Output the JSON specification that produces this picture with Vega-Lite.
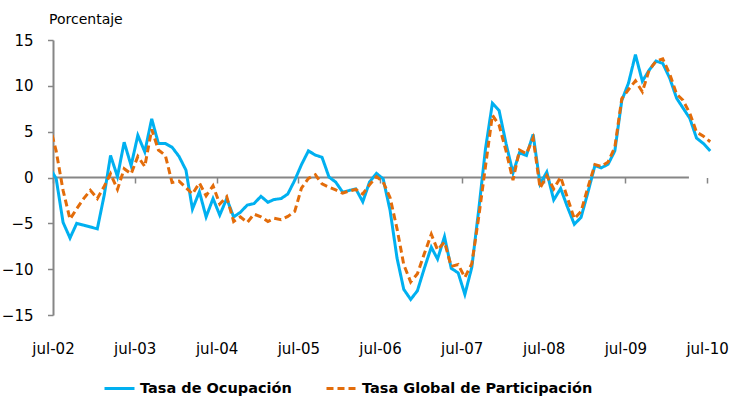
{
  "$schema": "https://vega.github.io/schema/vega-lite/v6.json",
  "width": 661,
  "height": 275,
  "autosize": {"type": "none"},
  "padding": {"left": 53, "top": 40, "right": 23, "bottom": 87},
  "background": "white",
  "config": {"view": {"stroke": null}, "font": "DejaVu Sans"},
  "title": {"text": "Porcentaje", "anchor": "start", "frame": "group", "fontSize": 14, "fontWeight": "normal", "font": "DejaVu Sans", "color": "#000000", "baseline": "alphabetic", "offset": 10, "dx": -4, "dy": 15},
  "data": {"values": [
    {"fecha": "2002-06-15", "Tasa de Ocupación": 1.1, "Tasa Global de Participación": 5.8},
    {"fecha": "2002-07-15", "Tasa de Ocupación": -0.1, "Tasa Global de Participación": 2.9},
    {"fecha": "2002-08-15", "Tasa de Ocupación": -4.9, "Tasa Global de Participación": -1.4},
    {"fecha": "2002-09-15", "Tasa de Ocupación": -6.6, "Tasa Global de Participación": -4.55},
    {"fecha": "2002-10-15", "Tasa de Ocupación": -5.0, "Tasa Global de Participación": -3.4},
    {"fecha": "2002-11-15", "Tasa de Ocupación": -5.2, "Tasa Global de Participación": -2.3},
    {"fecha": "2002-12-15", "Tasa de Ocupación": -5.4, "Tasa Global de Participación": -1.4},
    {"fecha": "2003-01-15", "Tasa de Ocupación": -5.6, "Tasa Global de Participación": -2.3},
    {"fecha": "2003-02-15", "Tasa de Ocupación": -1.9, "Tasa Global de Participación": -0.95},
    {"fecha": "2003-03-15", "Tasa de Ocupación": 2.4, "Tasa Global de Participación": 0.4},
    {"fecha": "2003-04-15", "Tasa de Ocupación": 0.1, "Tasa Global de Participación": -1.3},
    {"fecha": "2003-05-15", "Tasa de Ocupación": 3.85, "Tasa Global de Participación": 0.95},
    {"fecha": "2003-06-15", "Tasa de Ocupación": 1.3, "Tasa Global de Participación": 0.4},
    {"fecha": "2003-07-15", "Tasa de Ocupación": 4.6, "Tasa Global de Participación": 2.3},
    {"fecha": "2003-08-15", "Tasa de Ocupación": 2.8, "Tasa Global de Participación": 1.2},
    {"fecha": "2003-09-15", "Tasa de Ocupación": 6.4, "Tasa Global de Participación": 5.25},
    {"fecha": "2003-10-15", "Tasa de Ocupación": 3.7, "Tasa Global de Participación": 3.0},
    {"fecha": "2003-11-15", "Tasa de Ocupación": 3.7, "Tasa Global de Participación": 2.4},
    {"fecha": "2003-12-15", "Tasa de Ocupación": 3.3, "Tasa Global de Participación": -0.55},
    {"fecha": "2004-01-15", "Tasa de Ocupación": 2.3, "Tasa Global de Participación": -0.4},
    {"fecha": "2004-02-15", "Tasa de Ocupación": 0.8, "Tasa Global de Participación": -1.1},
    {"fecha": "2004-03-15", "Tasa de Ocupación": -3.45, "Tasa Global de Participación": -1.8},
    {"fecha": "2004-04-15", "Tasa de Ocupación": -1.55, "Tasa Global de Participación": -0.6},
    {"fecha": "2004-05-15", "Tasa de Ocupación": -4.3, "Tasa Global de Participación": -2.0},
    {"fecha": "2004-06-15", "Tasa de Ocupación": -2.3, "Tasa Global de Participación": -0.9},
    {"fecha": "2004-07-15", "Tasa de Ocupación": -4.1, "Tasa Global de Participación": -2.9},
    {"fecha": "2004-08-15", "Tasa de Ocupación": -2.3, "Tasa Global de Participación": -2.1},
    {"fecha": "2004-09-15", "Tasa de Ocupación": -4.3, "Tasa Global de Participación": -4.8},
    {"fecha": "2004-10-15", "Tasa de Ocupación": -3.8, "Tasa Global de Participación": -4.3},
    {"fecha": "2004-11-15", "Tasa de Ocupación": -3.0, "Tasa Global de Participación": -4.9},
    {"fecha": "2004-12-15", "Tasa de Ocupación": -2.85, "Tasa Global de Participación": -4.0},
    {"fecha": "2005-01-15", "Tasa de Ocupación": -2.05, "Tasa Global de Participación": -4.3},
    {"fecha": "2005-02-15", "Tasa de Ocupación": -2.7, "Tasa Global de Participación": -4.8},
    {"fecha": "2005-03-15", "Tasa de Ocupación": -2.4, "Tasa Global de Participación": -4.45},
    {"fecha": "2005-04-15", "Tasa de Ocupación": -2.3, "Tasa Global de Participación": -4.6},
    {"fecha": "2005-05-15", "Tasa de Ocupación": -1.8, "Tasa Global de Participación": -4.25},
    {"fecha": "2005-06-15", "Tasa de Ocupación": -0.3, "Tasa Global de Participación": -3.7},
    {"fecha": "2005-07-15", "Tasa de Ocupación": 1.4, "Tasa Global de Participación": -1.15},
    {"fecha": "2005-08-15", "Tasa de Ocupación": 2.9, "Tasa Global de Participación": -0.1},
    {"fecha": "2005-09-15", "Tasa de Ocupación": 2.45, "Tasa Global de Participación": 0.3},
    {"fecha": "2005-10-15", "Tasa de Ocupación": 2.2, "Tasa Global de Participación": -0.7},
    {"fecha": "2005-11-15", "Tasa de Ocupación": 0.05, "Tasa Global de Participación": -1.05},
    {"fecha": "2005-12-15", "Tasa de Ocupación": -0.5, "Tasa Global de Participación": -1.35},
    {"fecha": "2006-01-15", "Tasa de Ocupación": -1.6, "Tasa Global de Participación": -1.7},
    {"fecha": "2006-02-15", "Tasa de Ocupación": -1.4, "Tasa Global de Participación": -1.45},
    {"fecha": "2006-03-15", "Tasa de Ocupación": -1.25, "Tasa Global de Participación": -1.3},
    {"fecha": "2006-04-15", "Tasa de Ocupación": -2.65, "Tasa Global de Participación": -1.8},
    {"fecha": "2006-05-15", "Tasa de Ocupación": -0.5, "Tasa Global de Participación": -0.8},
    {"fecha": "2006-06-15", "Tasa de Ocupación": 0.45, "Tasa Global de Participación": 0.1},
    {"fecha": "2006-07-15", "Tasa de Ocupación": -0.15, "Tasa Global de Participación": -0.5},
    {"fecha": "2006-08-15", "Tasa de Ocupación": -3.6, "Tasa Global de Participación": -2.2},
    {"fecha": "2006-09-15", "Tasa de Ocupación": -8.8, "Tasa Global de Participación": -5.6},
    {"fecha": "2006-10-15", "Tasa de Ocupación": -12.2, "Tasa Global de Participación": -9.5},
    {"fecha": "2006-11-15", "Tasa de Ocupación": -13.3, "Tasa Global de Participación": -11.4},
    {"fecha": "2006-12-15", "Tasa de Ocupación": -12.35, "Tasa Global de Participación": -10.5},
    {"fecha": "2007-01-15", "Tasa de Ocupación": -9.9, "Tasa Global de Participación": -8.3},
    {"fecha": "2007-02-15", "Tasa de Ocupación": -7.6, "Tasa Global de Participación": -6.2},
    {"fecha": "2007-03-15", "Tasa de Ocupación": -8.9, "Tasa Global de Participación": -7.9},
    {"fecha": "2007-04-15", "Tasa de Ocupación": -6.45, "Tasa Global de Participación": -7.05},
    {"fecha": "2007-05-15", "Tasa de Ocupación": -9.9, "Tasa Global de Participación": -9.7},
    {"fecha": "2007-06-15", "Tasa de Ocupación": -10.4, "Tasa Global de Participación": -9.5},
    {"fecha": "2007-07-15", "Tasa de Ocupación": -12.75, "Tasa Global de Participación": -10.9},
    {"fecha": "2007-08-15", "Tasa de Ocupación": -9.8, "Tasa Global de Participación": -9.4},
    {"fecha": "2007-09-15", "Tasa de Ocupación": -3.5, "Tasa Global de Participación": -4.3},
    {"fecha": "2007-10-15", "Tasa de Ocupación": 3.1, "Tasa Global de Participación": 1.2},
    {"fecha": "2007-11-15", "Tasa de Ocupación": 8.1, "Tasa Global de Participación": 6.8},
    {"fecha": "2007-12-15", "Tasa de Ocupación": 7.3, "Tasa Global de Participación": 5.7},
    {"fecha": "2008-01-15", "Tasa de Ocupación": 3.7, "Tasa Global de Participación": 2.9},
    {"fecha": "2008-02-15", "Tasa de Ocupación": 0.5, "Tasa Global de Participación": -0.3},
    {"fecha": "2008-03-15", "Tasa de Ocupación": 2.7, "Tasa Global de Participación": 3.0},
    {"fecha": "2008-04-15", "Tasa de Ocupación": 2.4, "Tasa Global de Participación": 2.6},
    {"fecha": "2008-05-15", "Tasa de Ocupación": 4.7, "Tasa Global de Participación": 4.3},
    {"fecha": "2008-06-15", "Tasa de Ocupación": -0.7, "Tasa Global de Participación": -1.15},
    {"fecha": "2008-07-15", "Tasa de Ocupación": 0.6, "Tasa Global de Participación": 0.2},
    {"fecha": "2008-08-15", "Tasa de Ocupación": -2.45, "Tasa Global de Participación": -1.25},
    {"fecha": "2008-09-15", "Tasa de Ocupación": -1.2, "Tasa Global de Participación": 0.05},
    {"fecha": "2008-10-15", "Tasa de Ocupación": -3.2, "Tasa Global de Participación": -2.2},
    {"fecha": "2008-11-15", "Tasa de Ocupación": -5.1, "Tasa Global de Participación": -4.5},
    {"fecha": "2008-12-15", "Tasa de Ocupación": -4.35, "Tasa Global de Participación": -3.7},
    {"fecha": "2009-01-15", "Tasa de Ocupación": -1.6, "Tasa Global de Participación": -1.05},
    {"fecha": "2009-02-15", "Tasa de Ocupación": 1.3, "Tasa Global de Participación": 1.4},
    {"fecha": "2009-03-15", "Tasa de Ocupación": 1.05, "Tasa Global de Participación": 1.2},
    {"fecha": "2009-04-15", "Tasa de Ocupación": 1.45, "Tasa Global de Participación": 1.7},
    {"fecha": "2009-05-15", "Tasa de Ocupación": 2.9, "Tasa Global de Participación": 3.3},
    {"fecha": "2009-06-15", "Tasa de Ocupación": 8.4, "Tasa Global de Participación": 8.6},
    {"fecha": "2009-07-15", "Tasa de Ocupación": 10.3, "Tasa Global de Participación": 9.6},
    {"fecha": "2009-08-15", "Tasa de Ocupación": 13.4, "Tasa Global de Participación": 10.55},
    {"fecha": "2009-09-15", "Tasa de Ocupación": 10.5, "Tasa Global de Participación": 9.35},
    {"fecha": "2009-10-15", "Tasa de Ocupación": 11.7, "Tasa Global de Participación": 11.7},
    {"fecha": "2009-11-15", "Tasa de Ocupación": 12.7, "Tasa Global de Participación": 12.7},
    {"fecha": "2009-12-15", "Tasa de Ocupación": 12.45, "Tasa Global de Participación": 12.95},
    {"fecha": "2010-01-15", "Tasa de Ocupación": 10.85, "Tasa Global de Participación": 11.3},
    {"fecha": "2010-02-15", "Tasa de Ocupación": 8.65, "Tasa Global de Participación": 9.1},
    {"fecha": "2010-03-15", "Tasa de Ocupación": 7.6, "Tasa Global de Participación": 8.45},
    {"fecha": "2010-04-15", "Tasa de Ocupación": 6.45, "Tasa Global de Participación": 7.0},
    {"fecha": "2010-05-15", "Tasa de Ocupación": 4.3, "Tasa Global de Participación": 4.95},
    {"fecha": "2010-06-15", "Tasa de Ocupación": 3.7, "Tasa Global de Participación": 4.5},
    {"fecha": "2010-07-15", "Tasa de Ocupación": 2.9, "Tasa Global de Participación": 3.9}
  ]},
  "transform": [{"fold": ["Tasa de Ocupación", "Tasa Global de Participación"], "as": ["serie", "valor"]}],
  "layer": [
    {
      "data": {"values": [{}]},
      "mark": {"type": "rule", "color": "#868686", "strokeWidth": 2},
      "encoding": {
        "x": {"datum": {"year": 2002, "month": 7, "date": 1}, "type": "temporal"},
        "x2": {"datum": {"year": 2010, "month": 4, "date": 11}},
        "y": {"datum": 0, "type": "quantitative"}
      }
    },
    {
      "transform": [{"filter": "datum.serie == 'Tasa de Ocupación'"}],
      "mark": {"type": "line", "strokeWidth": 3, "clip": true},
      "encoding": {
        "x": {
          "field": "fecha", "type": "temporal",
          "scale": {"domain": [{"year": 2002, "month": 7, "date": 1}, {"year": 2010, "month": 8, "date": 1}]},
          "axis": {
            "title": null, "orient": "bottom", "offset": -137.5, "domain": false, "grid": false,
            "values": [
              {"year": 2002, "month": 7, "date": 1}, {"year": 2003, "month": 7, "date": 1},
              {"year": 2004, "month": 7, "date": 1}, {"year": 2005, "month": 7, "date": 1},
              {"year": 2006, "month": 7, "date": 1}, {"year": 2007, "month": 7, "date": 1},
              {"year": 2008, "month": 7, "date": 1}, {"year": 2009, "month": 7, "date": 1},
              {"year": 2010, "month": 7, "date": 1}
            ],
            "labelExpr": "lower(timeFormat(datum.value, '%b-%y'))",
            "tickSize": 5.5, "tickColor": "#868686", "tickWidth": 1.5,
            "labelPadding": 158.5, "labelDx": 3.5, "labelFontSize": 15, "labelColor": "#000000",
            "labelFont": "DejaVu Sans", "labelFlush": false, "labelOverlap": false, "labelBound": false
          }
        },
        "y": {
          "field": "valor", "type": "quantitative",
          "scale": {"domain": [-15, 15], "nice": false, "zero": false},
          "axis": {
            "title": null, "values": [-15, -10, -5, 0, 5, 10, 15], "grid": false,
            "domainColor": "#868686", "domainWidth": 2, "tickColor": "#868686", "tickWidth": 1.5,
            "tickSize": 5.5, "labelPadding": 14.5, "labelFontSize": 15, "labelColor": "#000000",
            "labelFont": "DejaVu Sans"
          }
        },
        "color": {
          "field": "serie", "type": "nominal",
          "scale": {"domain": ["Tasa de Ocupación", "Tasa Global de Participación"], "range": ["#00B0F0", "#E36C0A"]},
          "legend": {
            "title": null, "orient": "none", "legendX": 50, "legendY": 332, "direction": "horizontal",
            "symbolType": "stroke", "symbolSize": 900, "symbolStrokeWidth": 3,
            "labelFont": "DejaVu Sans", "labelFontSize": 14.5, "labelFontWeight": "bold", "labelColor": "#000000",
            "labelLimit": 400, "labelOffset": 4, "columnPadding": 28
          }
        },
        "strokeDash": {
          "field": "serie", "type": "nominal",
          "scale": {"domain": ["Tasa de Ocupación", "Tasa Global de Participación"], "range": [[1, 0], [7, 4]]},
          "legend": {
            "title": null, "orient": "none", "legendX": 50, "legendY": 332, "direction": "horizontal",
            "symbolType": "stroke", "symbolSize": 900, "symbolStrokeWidth": 3,
            "labelFont": "DejaVu Sans", "labelFontSize": 14.5, "labelFontWeight": "bold", "labelColor": "#000000",
            "labelLimit": 400, "labelOffset": 4, "columnPadding": 28
          }
        }
      }
    },
    {
      "transform": [{"filter": "datum.serie == 'Tasa Global de Participación'"}],
      "mark": {"type": "line", "strokeWidth": 3, "clip": true},
      "encoding": {
        "x": {"field": "fecha", "type": "temporal"},
        "y": {"field": "valor", "type": "quantitative"},
        "color": {"field": "serie", "type": "nominal"},
        "strokeDash": {"field": "serie", "type": "nominal"}
      }
    }
  ]
}
